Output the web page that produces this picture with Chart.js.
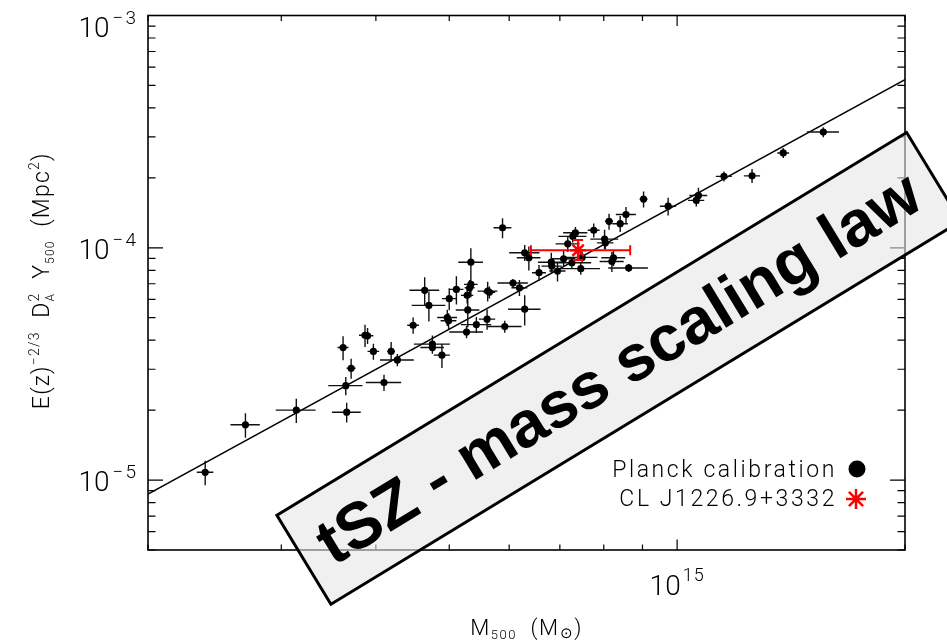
<!DOCTYPE html>
<html>
<head>
<meta charset="utf-8">
<script src="https://cdn.jsdelivr.net/npm/chart.js@4.4.1/dist/chart.umd.min.js"></script>
<style>
  html, body { margin: 0; padding: 0; background: #ffffff; }
  #wrap { width: 947px; height: 644px; }
</style>
</head>
<body>
<div id="wrap"><canvas id="c" width="947" height="644"></canvas></div>
<script>
// Units used in the arrays below
const MASS_UNIT = 1e14;   // M500 in units of 1e14 Msun
const Y_UNIT = 1e-5;      // E(z)^-2/3 D_A^2 Y500 in units of 1e-5 Mpc^2

// Planck calibration sample
const planckMass = [2.38, 2.69, 3.14, 3.65, 3.66, 4.10, 3.71, 3.62, 3.87, 3.90,
  3.97, 4.19, 4.27, 4.48, 5.88, 6.29, 6.37, 5.34, 4.64, 4.70,
  5.11, 5.34, 5.32, 5.28, 5.00, 5.62, 5.65, 5.29, 6.07, 6.19,
  6.29, 4.97, 4.99, 5.61, 5.43, 5.27, 5.92, 4.75, 4.75, 4.89,
  6.57, 6.82, 6.83, 6.95, 7.08, 7.17, 7.26, 7.28, 7.34, 7.46,
  7.49, 7.76, 8.02, 8.04, 8.13, 8.41, 8.56, 9.03, 8.24, 8.20,
  8.63, 9.73, 10.67, 10.60, 11.53, 12.56, 13.81, 15.60];
const planckMassErr = [0.06, 0.12, 0.19, 0.19, 0.16, 0.22, 0.05, 0.06, 0.07, 0.07,
  0.07, 0.05, 0.22, 0.08, 0.16, 0.29, 0.23, 0.20, 0.21, 0.24,
  0.11, 0.11, 0.08, 0.10, 0.11, 0.17, 0.10, 0.19, 0.28, 0.15,
  0.31, 0.15, 0.12, 0.14, 0.25, 0.27, 0.31, 0.26, 0.17, 0.12,
  0.14, 0.27, 0.21, 0.17, 0.26, 0.26, 0.44, 0.31, 0.27, 0.45,
  0.36, 0.14, 0.34, 0.20, 0.10, 0.20, 0.26, 0.11, 0.30, 0.30,
  0.52, 0.24, 0.29, 0.26, 0.28, 0.31, 0.25, 0.76];
const planckY = [1.08, 1.73, 2.00, 2.55, 1.96, 2.63, 3.03, 3.72, 4.20, 4.18,
  3.58, 3.58, 3.29, 4.64, 12.2, 9.52, 9.06, 8.67, 6.56, 5.65,
  6.62, 6.96, 6.73, 6.24, 6.04, 6.51, 6.43, 5.40, 7.05, 6.73,
  5.44, 5.01, 4.85, 4.93, 4.67, 4.34, 4.58, 3.85, 3.72, 3.45,
  7.81, 8.67, 8.34, 7.94, 8.97, 10.4, 8.62, 11.2, 11.6, 8.13,
  9.09, 11.9, 10.9, 10.5, 13.0, 12.7, 13.9, 16.2, 9.06, 8.73,
  8.19, 15.1, 16.8, 16.0, 20.3, 20.4, 25.6, 31.5];
const planckYErr = [0.13, 0.21, 0.24, 0.23, 0.19, 0.21, 0.30, 0.44, 0.46, 0.33,
  0.28, 0.35, 0.20, 0.37, 1.20, 0.75, 1.07, 1.29, 0.91, 0.84,
  0.92, 0.83, 0.53, 0.49, 0.66, 0.64, 0.38, 0.85, 0.28, 0.53,
  0.81, 0.40, 0.38, 0.49, 0.37, 0.26, 0.27, 0.34, 0.22, 0.41,
  0.62, 0.86, 0.49, 0.78, 0.71, 0.82, 0.51, 0.67, 0.69, 0.48,
  0.54, 0.82, 1.07, 0.62, 1.03, 1.01, 1.10, 1.28, 0.72, 0.86,
  0.32, 1.34, 1.33, 0.95, 1.00, 1.41, 1.26, 1.56];

// CL J1226.9+3332 (value with lower / upper bounds)
const clusterMass = [7.40];
const clusterMassLow = [6.41];
const clusterMassHigh = [8.67];
const clusterY = [9.76];
const clusterYLow = [8.85];
const clusterYHigh = [10.80];

// Scaling relation end points
const fitMass = [2.0, 20.0];
const fitY = [0.87, 53.0];

// Axis ranges and labelled decades
const xRange = [2e14, 2e15];
const yRange = [5e-6, 1e-3];
const xMajorValues = [1e15];
const xMajorExponents = ['15'];
const yMajorValues = [1e-5, 1e-4, 1e-3];
const yMajorExponents = ['\u22125', '\u22124', '\u22123'];

// Legend entries
const legendLabels = ['Planck calibration', 'CL J1226.9+3332'];

// Banner annotation (anchored at its upper-left corner, in data units)
const bannerText = 'tSZ - mass scaling law';
const bannerAnchor = { mass: 2.96e14, y: 7.05e-6 };

const FAM = '"Roboto", "Liberation Sans", "DejaVu Sans", sans-serif';
const THIN = 300;

const planckPoints = planckMass.map((m, i) => ({ x: m * MASS_UNIT, y: planckY[i] * Y_UNIT }));
const planckErrors = planckMass.map((m, i) => ({
  xLo: (m - planckMassErr[i]) * MASS_UNIT, xHi: (m + planckMassErr[i]) * MASS_UNIT,
  yLo: (planckY[i] - planckYErr[i]) * Y_UNIT, yHi: (planckY[i] + planckYErr[i]) * Y_UNIT
}));
const clusterPoints = clusterMass.map((m, i) => ({ x: m * MASS_UNIT, y: clusterY[i] * Y_UNIT }));
const clusterErrors = clusterMass.map((m, i) => ({
  xLo: clusterMassLow[i] * MASS_UNIT, xHi: clusterMassHigh[i] * MASS_UNIT,
  yLo: clusterYLow[i] * Y_UNIT, yHi: clusterYHigh[i] * Y_UNIT
}));
const fitPoints = fitMass.map((m, i) => ({ x: m * MASS_UNIT, y: fitY[i] * Y_UNIT }));

// error bar styling per dataset index
const errorSets = {
  0: { errs: clusterErrors, color: '#ff0000', width: 2, cap: 5 },
  1: { errs: planckErrors, color: '#111111', width: 1.4, cap: 0 }
};

function logTicks(min, max) {
  const out = [];
  for (let e = Math.floor(Math.log10(min)); e <= Math.ceil(Math.log10(max)); e++) {
    for (let m = 1; m <= 9; m++) {
      const v = m * Math.pow(10, e);
      if (v >= min * 0.9999 && v <= max * 1.0001) out.push({ v, major: m === 1 });
    }
  }
  return out;
}

// rich text: parts are [text, size, rise, stackOnPrevious]
function layoutRich(ctx, parts, spacing) {
  let x = 0, prevStart = 0;
  const items = [];
  for (const [text, size, rise, stack] of parts) {
    ctx.font = `${THIN} ${size}px ${FAM}`;
    ctx.letterSpacing = spacing + 'px';
    const w = ctx.measureText(text).width;
    const start = stack ? prevStart : x;
    x = Math.max(x, start + w);
    items.push({ text, size, rise, start });
    prevStart = start;
  }
  return { items, width: x };
}
function drawRich(ctx, parts, cx, baseline, spacing) {
  const lay = layoutRich(ctx, parts, spacing);
  const x0 = cx - lay.width / 2;
  ctx.textAlign = 'left';
  ctx.textBaseline = 'alphabetic';
  for (const it of lay.items) {
    ctx.font = `${THIN} ${it.size}px ${FAM}`;
    ctx.letterSpacing = spacing + 'px';
    ctx.fillText(it.text, x0 + it.start, baseline - it.rise);
  }
}

function drawMarker(ctx, style, radius, width, color, x, y) {
  ctx.save();
  ctx.strokeStyle = color;
  ctx.fillStyle = color;
  ctx.lineWidth = width;
  if (style === 'circle') {
    ctx.beginPath(); ctx.arc(x, y, radius, 0, Math.PI * 2); ctx.fill();
  } else if (Chart.helpers && Chart.helpers.drawPoint) {
    Chart.helpers.drawPoint(ctx, { pointStyle: style, radius: radius, borderWidth: width, rotation: 0 }, x, y);
  } else {
    ctx.beginPath();
    for (let k = 0; k < 4; k++) {
      const a = k * Math.PI / 4;
      ctx.moveTo(x - radius * Math.cos(a), y - radius * Math.sin(a));
      ctx.lineTo(x + radius * Math.cos(a), y + radius * Math.sin(a));
    }
    ctx.stroke();
  }
  ctx.restore();
}

const errorBarPlugin = {
  id: 'errorBars',
  beforeDatasetDraw(chart, args) {
    const set = errorSets[args.index];
    if (!set) return;
    const { ctx, chartArea: a, scales: { x, y } } = chart;
    const pts = chart.data.datasets[args.index].data;
    ctx.save();
    ctx.beginPath(); ctx.rect(a.left, a.top, a.right - a.left, a.bottom - a.top); ctx.clip();
    ctx.strokeStyle = set.color;
    ctx.lineWidth = set.width;
    ctx.beginPath();
    pts.forEach((p, i) => {
      const e = set.errs[i];
      const px = x.getPixelForValue(p.x), py = y.getPixelForValue(p.y);
      const x0 = x.getPixelForValue(e.xLo), x1 = x.getPixelForValue(e.xHi);
      const y0 = y.getPixelForValue(e.yLo), y1 = y.getPixelForValue(e.yHi);
      ctx.moveTo(x0, py); ctx.lineTo(x1, py);
      ctx.moveTo(px, y0); ctx.lineTo(px, y1);
      if (set.cap) {
        ctx.moveTo(x0, py - set.cap); ctx.lineTo(x0, py + set.cap);
        ctx.moveTo(x1, py - set.cap); ctx.lineTo(x1, py + set.cap);
        ctx.moveTo(px - set.cap, y0); ctx.lineTo(px + set.cap, y0);
        ctx.moveTo(px - set.cap, y1); ctx.lineTo(px + set.cap, y1);
      }
    });
    ctx.stroke();
    ctx.restore();
  }
};

const framePlugin = {
  id: 'frame',
  afterDatasetsDraw(chart) {
    const { ctx, chartArea: a, scales: { x, y } } = chart;
    ctx.save();
    ctx.strokeStyle = '#000';
    ctx.lineWidth = 1.6;
    ctx.strokeRect(a.left, a.top, a.right - a.left, a.bottom - a.top);
    ctx.lineWidth = 1.2;
    ctx.beginPath();
    // x ticks (bottom and top, pointing inward)
    for (const t of logTicks(xRange[0], xRange[1])) {
      const px = x.getPixelForValue(t.v);
      const L = t.major ? 10.5 : 5.5;
      ctx.moveTo(px, a.bottom); ctx.lineTo(px, a.bottom - L);
      ctx.moveTo(px, a.top); ctx.lineTo(px, a.top + L);
    }
    // y ticks (left and right, pointing inward)
    for (const t of logTicks(yRange[0], yRange[1])) {
      const py = y.getPixelForValue(t.v);
      const L = t.major ? 15 : 7.5;
      ctx.moveTo(a.left, py); ctx.lineTo(a.left + L, py);
      ctx.moveTo(a.right, py); ctx.lineTo(a.right - L, py);
    }
    ctx.stroke();

    // tick labels: "10" with a raised exponent
    ctx.fillStyle = '#000';
    ctx.textBaseline = 'alphabetic';
    yMajorValues.forEach((v, i) => {
      const py = y.getPixelForValue(v);
      const base = Math.max(py + 11, a.top + 21);
      const right = a.left - 10;
      ctx.font = `${THIN} 19px ${FAM}`;
      ctx.letterSpacing = '2px';
      const supW = ctx.measureText(yMajorExponents[i]).width;
      ctx.textAlign = 'right';
      ctx.fillText(yMajorExponents[i], right, base - 13);
      ctx.font = `${THIN} 28px ${FAM}`;
      ctx.letterSpacing = '0px';
      ctx.fillText('10', right - supW - 3, base);
    });
    xMajorValues.forEach((v, i) => {
      const px = x.getPixelForValue(v);
      ctx.font = `${THIN} 28px ${FAM}`;
      ctx.letterSpacing = '0px';
      const w10 = ctx.measureText('10').width;
      ctx.font = `${THIN} 18px ${FAM}`;
      ctx.letterSpacing = '1px';
      const wExp = ctx.measureText(xMajorExponents[i]).width;
      const start = px - (w10 + 2 + wExp) / 2;
      ctx.textAlign = 'left';
      ctx.fillText(xMajorExponents[i], start + w10 + 2, a.bottom + 31);
      ctx.font = `${THIN} 28px ${FAM}`;
      ctx.letterSpacing = '0px';
      ctx.fillText('10', start, a.bottom + 45);
    });

    // axis titles
    drawRich(ctx, [['M', 22, 0], ['500', 13, -4], ['  (M', 22, 0], ['\u2299', 15, -3], [')', 22, 0]],
      (a.left + a.right) / 2, a.bottom + 85, 1.5);
    ctx.save();
    ctx.translate(a.left - 99, (a.top + a.bottom) / 2 - 2);
    ctx.rotate(-Math.PI / 2);
    drawRich(ctx, [['E(z)', 23, 0], ['\u22122/3', 14, 10], ['  D', 23, 0], ['A', 12, -5], ['2', 14, 10, true],
      ['  Y', 23, 0], ['500', 12, -5], ['  (Mpc', 23, 0], ['2', 14, 10], [')', 23, 0]], 0, 0, 1.2);
    ctx.restore();
    ctx.restore();
  },
  afterDraw(chart) {
    const { ctx, chartArea: a, scales: { x, y } } = chart;
    // banner
    ctx.save();
    ctx.translate(x.getPixelForValue(bannerAnchor.mass), y.getPixelForValue(bannerAnchor.y));
    ctx.rotate(-31.3 * Math.PI / 180);
    const W = 737, H = 104;
    ctx.fillStyle = 'rgba(230,230,230,0.6)';
    ctx.fillRect(0, 0, W, H);
    ctx.lineWidth = 3;
    ctx.strokeStyle = '#000';
    ctx.strokeRect(0, 0, W, H);
    ctx.fillStyle = '#000';
    ctx.font = `bold 65px "Liberation Sans", Arial, sans-serif`;
    ctx.letterSpacing = '0px';
    ctx.textAlign = 'center';
    ctx.textBaseline = 'alphabetic';
    ctx.fillText(bannerText, W / 2, H / 2 + 21);
    ctx.restore();

    // legend
    ctx.save();
    ctx.fillStyle = '#000';
    ctx.font = `${THIN} 23px ${FAM}`;
    ctx.letterSpacing = '2.6px';
    ctx.textAlign = 'right';
    ctx.textBaseline = 'alphabetic';
    const tx = a.right - 68;
    ctx.fillText(legendLabels[0], tx, a.bottom - 73);
    ctx.fillText(legendLabels[1], tx, a.bottom - 44);
    ctx.restore();
    drawMarker(ctx, 'circle', 8.5, 0, '#000', a.right - 48, a.bottom - 81);
    drawMarker(ctx, 'star', 10, 2.5, '#ff0000', a.right - 49, a.bottom - 51);
  }
};

new Chart(document.getElementById('c'), {
  type: 'scatter',
  data: {
    datasets: [
      {
        label: legendLabels[1], data: clusterPoints, order: 0,
        pointStyle: 'star', pointRadius: 8, borderColor: '#ff0000', backgroundColor: '#ff0000', borderWidth: 2.5
      },
      {
        label: legendLabels[0], data: planckPoints, order: 1,
        pointStyle: 'circle', pointRadius: 3.6, backgroundColor: '#000', borderWidth: 0
      },
      {
        label: 'fit', data: fitPoints, order: 2, showLine: true,
        borderColor: '#000', borderWidth: 1.5, pointRadius: 0
      }
    ]
  },
  options: {
    responsive: false,
    animation: false,
    events: [],
    layout: { padding: { left: 148, right: 42, top: 15.5, bottom: 94 } },
    scales: {
      x: { type: 'logarithmic', min: xRange[0], max: xRange[1], display: false },
      y: { type: 'logarithmic', min: yRange[0], max: yRange[1], display: false }
    },
    plugins: { legend: { display: false }, tooltip: { enabled: false } }
  },
  plugins: [errorBarPlugin, framePlugin]
});
</script>
</body>
</html>
